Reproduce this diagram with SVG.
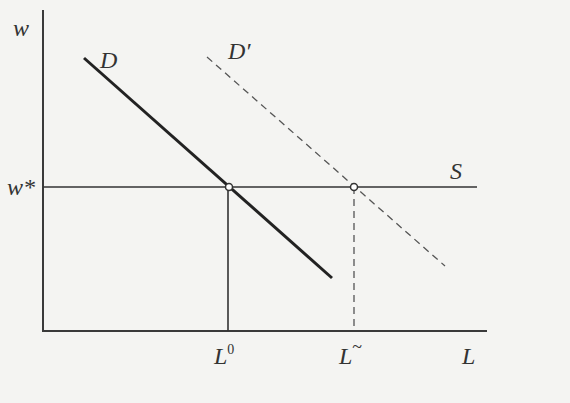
<svg xmlns="http://www.w3.org/2000/svg" width="570" height="403" viewBox="0 0 570 403">
<style>
.ax{stroke:#3a3a3a;stroke-width:2;fill:none}
.ln{stroke:#333;stroke-width:1.6;fill:none}
.dsh{stroke:#555;stroke-width:1.3;fill:none;stroke-dasharray:7,5}
.lbl{font-family:"Liberation Serif",serif;font-style:italic;font-size:24px;fill:#333}
.pt{fill:#fff;stroke:#333;stroke-width:1.5}
</style>
<rect width="570" height="403" fill="#f4f4f2"/>
<g id="connectors">
<line class="ax" x1="43" y1="10" x2="43" y2="331"/>
<line class="ax" x1="42" y1="331" x2="487" y2="331"/>
<line class="ln" x1="43" y1="187" x2="477" y2="187"/>
<line x1="84" y1="58" x2="332" y2="278" stroke="#222" stroke-width="3"/>
<line class="dsh" x1="207" y1="57" x2="445" y2="266"/>
<line class="ln" x1="228" y1="187" x2="228" y2="331"/>
<line class="dsh" x1="354" y1="187" x2="354" y2="331"/>
</g>
<g id="eq0"><circle class="pt" cx="229" cy="187" r="3.5"/></g>
<g id="eq1"><circle class="pt" cx="354" cy="187" r="3.5"/></g>
<g id="labels">
<text class="lbl" x="13" y="36">w</text>
<text class="lbl" x="7" y="195">w*</text>
<text class="lbl" x="100" y="68">D</text>
<text class="lbl" x="228" y="59">D′</text>
<text class="lbl" x="450" y="179">S</text>
<text class="lbl" x="214" y="364">L<tspan font-size="14" font-style="normal" dy="-10">0</tspan></text>
<text class="lbl" x="339" y="364">L<tspan font-size="18" font-style="normal" dy="-11">~</tspan></text>
<text class="lbl" x="462" y="364">L</text>
</g>
</svg>
